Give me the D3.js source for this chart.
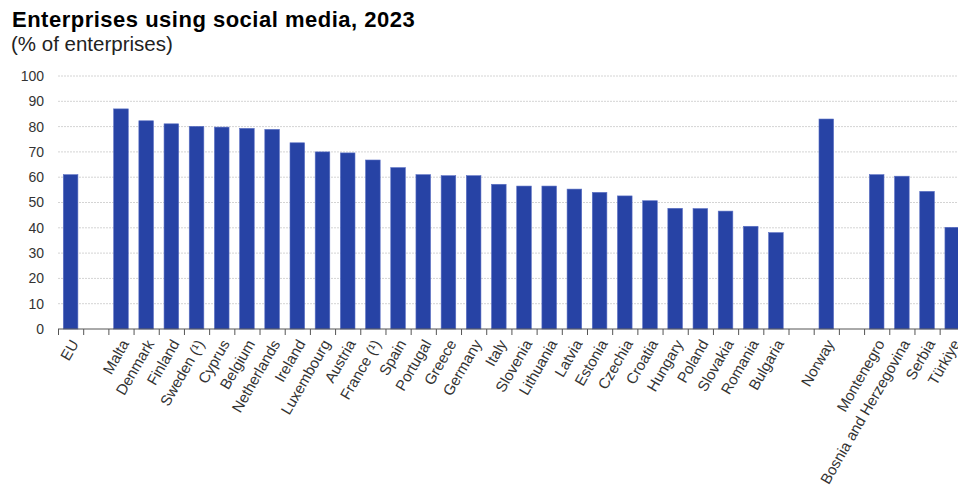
<!DOCTYPE html>
<html>
<head>
<meta charset="utf-8">
<script src="https://cdn.jsdelivr.net/npm/d3@7"></script>
<style>
  body { margin: 0; background: #fff; }
  text { font-family: 'Liberation Sans', Arial, sans-serif; }
</style>
</head>
<body>
<div id="graf"></div>
<script>
// Enterprises using social media, 2023

// Datos
paisesUE   = ['EU']
valoresUE  = [61]
paises     = ['Malta', 'Denmark', 'Finland', 'Sweden (¹)', 'Cyprus', 'Belgium', 'Netherlands',
              'Ireland', 'Luxembourg', 'Austria', 'France (¹)', 'Spain', 'Portugal', 'Greece',
              'Germany', 'Italy', 'Slovenia', 'Lithuania', 'Latvia', 'Estonia', 'Czechia',
              'Croatia', 'Hungary', 'Poland', 'Slovakia', 'Romania', 'Bulgaria']
valores    = [87, 82.3, 81.1, 80.1, 79.8, 79.3, 78.9,
              73.6, 70, 69.6, 66.8, 63.8, 61, 60.6,
              60.6, 57.2, 56.5, 56.5, 55.3, 54, 52.6,
              50.7, 47.7, 47.6, 46.6, 40.6, 38.1]
paisesEFTA  = ['Norway']
valoresEFTA = [83]
paisesCand  = ['Montenegro', 'Bosnia and Herzegovina', 'Serbia', 'Türkiye']
valoresCand = [61, 60.4, 54.4, 40.2]
ticksY      = [0, 10, 20, 30, 40, 50, 60, 70, 80, 90, 100]

// Categorías con huecos entre grupos
categorias = [].concat(paisesUE, ['_h1'], paises, ['_h2'], paisesEFTA, ['_h3'], paisesCand)
datos = [].concat(
  paisesUE.map((d, i) => ({ pais: d, valor: valoresUE[i] })),
  paises.map((d, i) => ({ pais: d, valor: valores[i] })),
  paisesEFTA.map((d, i) => ({ pais: d, valor: valoresEFTA[i] })),
  paisesCand.map((d, i) => ({ pais: d, valor: valoresCand[i] }))
)

ancho_total = 958
alto_total  = 492
margins = { top: 76, left: 58, bottom: 163 }
alto = alto_total - margins.top - margins.bottom

svg = d3.select('#graf').append('svg')
        .attr('width', ancho_total)
        .attr('height', alto_total)

// Título
svg.append('text')
   .attr('x', 12)
   .attr('y', 27)
   .attr('font-size', '22px')
   .attr('font-weight', 'bold')
   .attr('letter-spacing', '0.5px')
   .attr('fill', '#000')
   .text('Enterprises using social media, 2023')
svg.append('text')
   .attr('x', 11)
   .attr('y', 51)
   .attr('font-size', '20.5px')
   .attr('fill', '#222')
   .text('(% of enterprises)')

g = svg.append('g')
       .attr('transform', `translate(${margins.left}, ${margins.top})`)

// Escaladores (el último grupo queda cortado por el borde derecho)
x = d3.scaleBand().domain(categorias).range([0, 25.19 * categorias.length])
y = d3.scaleLinear().domain([0, 100]).range([alto, 0])

// Rejilla
g.append('g')
  .selectAll('line')
  .data(ticksY.slice(1))
  .join('line')
    .attr('x1', 0)
    .attr('x2', ancho_total)
    .attr('y1', d => y(d))
    .attr('y2', d => y(d))
    .attr('stroke', '#d4d4d4')
    .attr('stroke-dasharray', '2,1')

// Eje Y
yAxis = g.append('g')
  .call(d3.axisLeft(y).tickValues(ticksY).tickSize(0).tickPadding(14))
yAxis.select('.domain').remove()
yAxis.selectAll('text')
  .attr('font-size', '14px')
  .attr('font-family', "'Liberation Sans', Arial, sans-serif")
  .attr('fill', '#333')

// Barras
g.selectAll('rect.barra')
  .data(datos)
  .join('rect')
    .attr('class', 'barra')
    .attr('x', d => x(d.pais) + x.bandwidth() * 0.21)
    .attr('y', d => y(d.valor))
    .attr('width', x.bandwidth() * 0.58)
    .attr('height', d => alto - y(d.valor))
    .attr('fill', '#2743a5')
    .attr('stroke', '#5b70c4')
    .attr('stroke-width', 0.6)

// Eje X: línea y marcas en los límites de cada categoría
ejeX = g.append('g').attr('transform', `translate(0, ${alto})`)
ejeX.append('line')
  .attr('x1', 0)
  .attr('x2', ancho_total)
  .attr('stroke', '#555')
ejeX.selectAll('line.marca')
  .data(categorias)
  .join('line')
    .attr('class', 'marca')
    .attr('x1', d => x(d) + 0.5)
    .attr('x2', d => x(d) + 0.5)
    .attr('y1', 0)
    .attr('y2', 6)
    .attr('stroke', '#555')

ejeX.selectAll('text')
  .data(categorias.filter(d => d[0] != '_'))
  .join('text')
    .attr('transform', d => `translate(${x(d) + x.bandwidth() / 2 + 4}, 12) rotate(-60)`)
    .attr('text-anchor', 'end')
    .attr('dy', '0.35em')
    .attr('font-size', '15px')
    .attr('fill', '#333')
    .text(d => d)
</script>
</body>
</html>
